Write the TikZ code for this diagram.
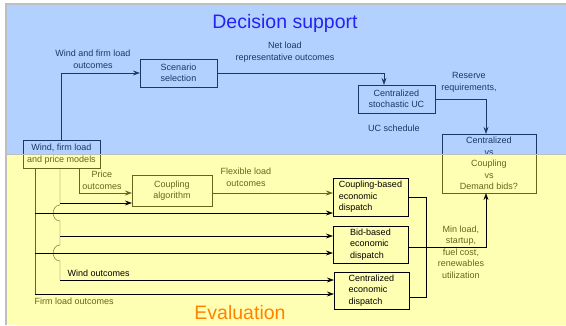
\documentclass[tikz,border=0pt]{standalone}
\usepackage{fontspec}
\setmainfont{Liberation Sans}
\usepackage{xcolor}
\usepackage{tikz}
\usetikzlibrary{positioning,arrows.meta}

\definecolor{dsblue}{RGB}{65,140,255}
\definecolor{evyellow}{RGB}{255,255,65}
\definecolor{panelline}{RGB}{190,190,190}
\definecolor{titleblue}{RGB}{35,35,245}
\definecolor{titleorange}{RGB}{255,130,0}

\pgfdeclarelayer{dim}
\pgfdeclarelayer{panel}
\pgfsetlayers{dim,panel,main}

\begin{document}
\begin{tikzpicture}[x=1pt,y=-1pt,>={Stealth[length=7pt,width=5pt,inset=2.5pt]},line width=0.8pt,
  every node/.append style={font=\fontsize{9}{11.5}\selectfont},
  box/.style={draw,rectangle,minimum width=77pt,minimum height=28pt,align=center,inner sep=1pt},
  dbox/.style={draw,rectangle,minimum width=75pt,minimum height=37pt,align=left,inner sep=1pt},
  lbl/.style={align=center,inner sep=0pt},
  title/.style={inner sep=0pt,font=\fontsize{19.5}{22}\selectfont}]
  \useasboundingbox (0,0) rectangle (566,325);
  \begin{pgfonlayer}{dim}
    \fill[white] (0,0) rectangle (566,325);
    \node[box] (M)  at (61.5,154) {Wind, firm load\\and price models};
    \node[box] (S)  at (178.5,73) {Scenario\\selection};
    \node[box] (UC) at (396.5,99) {Centralized\\stochastic UC};
    \node[box,minimum width=94pt,minimum height=59pt] (C) at (489,163.5)
      {Centralized\\vs\\Coupling\\vs\\Demand bids?};
    \node[box,minimum width=80pt,minimum height=31pt] (CA) at (172,190.5) {Coupling\\algorithm};
    % edge labels
    \node[lbl] (wfl) at (93,59.5) {Wind and firm load\\outcomes};
    \node[lbl] (nl)  at (285,52) {Net load\\representative outcomes};
    \node[lbl] (rr)  at (469,82.5) {Reserve\\requirements,};
    \node[lbl] (ucs) at (394,128) {UC schedule};
    \node[lbl] (po)  at (102,180.5) {Price\\outcomes};
    \node[lbl] (flo) at (246,177.5) {Flexible load\\outcomes};
    \node[lbl] (ml)  at (461,252) {Min load,\\startup,\\fuel cost,\\renewables\\utilization};
    \node[lbl,anchor=west] (flo2) at (34.5,301) {Firm load outcomes};
  \end{pgfonlayer}
  \node[dbox,minimum height=38pt] (CD) at (370.5,197) {Coupling-based\\economic\\dispatch};
  \node[dbox] (BD) at (370.5,244.5) {Bid-based\\economic\\dispatch};
  \node[dbox] (ED) at (371.5,290.5) {Centralized\\economic\\dispatch};
  \node[lbl,anchor=west] (wo) at (67.5,273) {Wind outcomes};

  \coordinate (p1) at (79,193);
  \coordinate (w1) at (60,203);
  \coordinate (w2) at (60,236);
  \coordinate (w3) at (60,280);
  \coordinate (f1) at (35,213);
  \coordinate (f2) at (35,253);
  \coordinate (f3) at (35,294);

  \begin{pgfonlayer}{dim}
    \draw[->] (M.north) |- (S.west);
    \draw[->] (S.east) -| (UC.north -| 384,0);
    \draw[->] (UC.east) -| (C.north -| 486,0);
    \draw[->] (M.south -| p1) |- (CA.west |- p1);
    \draw (M.south -| f1) -- (f3);
    \draw (M.south -| w1) -- (60,205) .. controls (51,205) and (51,221) .. (60,221)
      -- (60,245) .. controls (51,245) and (51,261) .. (60,261) -- (w3);
    \draw[->] (CA.east |- 0,193) -- (CD.west |- 0,193);
  \end{pgfonlayer}

  \begin{pgfonlayer}{panel}
    \fill[dsblue,fill opacity=0.4] (6,4) rectangle (566,154);
    \fill[evyellow,fill opacity=0.4] (6,154) rectangle (566,325);
    \draw[panelline,line width=1.2pt] (566,4) -- (6,4) -- (6,325);
    \draw[panelline] (6,154) -- (566,154);
  \end{pgfonlayer}

  \node[title,text=titleblue] (ds) at (285,23) {Decision support};
  \node[title,text=titleorange] (ev) at (240,313) {Evaluation};

  \draw[->] (w1) -- (CA.west |- w1);
  \draw[->] (f1) -- (CD.west |- f1);
  \draw[->] (w2) -- (BD.west |- w2);
  \draw[->] (f2) -- (BD.west |- f2);
  \draw[->] (w3) -- (ED.west |- w3);
  \draw[->] (f3) -- (ED.west |- f3);
  \draw (CD.east) -- (CD.east -| 426,0) |- (ED.east |- 0,297);
  \draw[->] (BD.east |- 0,247) -| (C.south -| 486,0);
\end{tikzpicture}
\end{document}
